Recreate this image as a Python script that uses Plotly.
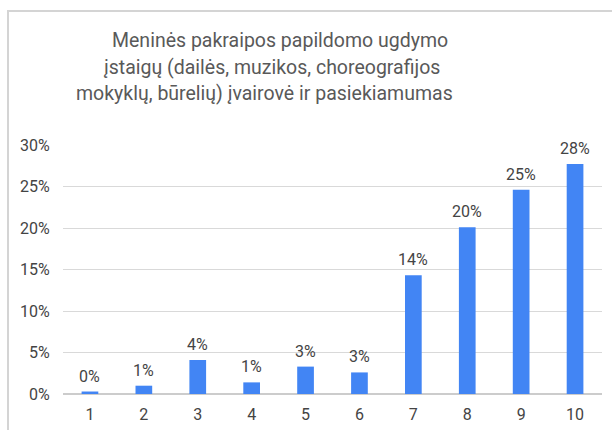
import plotly.graph_objects as go

categories = ["1", "2", "3", "4", "5", "6", "7", "8", "9", "10"]
values = [0.003, 0.010, 0.041, 0.014, 0.033, 0.026, 0.143, 0.201, 0.246, 0.277]
labels = ["0%", "1%", "4%", "1%", "3%", "3%", "14%", "20%", "25%", "28%"]
y_ticks = [0, 0.05, 0.10, 0.15, 0.20, 0.25, 0.30]
y_tick_text = ["0%", "5%", "10%", "15%", "20%", "25%", "30%"]
title_lines = ["Meninės pakraipos papildomo ugdymo",
               "įstaigų (dailės, muzikos, choreografijos",
               "mokyklų, būrelių) įvairovė ir pasiekiamumas"]

FONT = "Roboto, Arial, sans-serif"

fig = go.Figure(go.Bar(
    x=categories, y=values, cliponaxis=False,
    marker=dict(color="#4285f4", line=dict(width=0)),
))

W, H = 612, 430
L, R, T, B = 63, 10, 145, 36
pw, ph = W - L - R, H - T - B

def px_x(p):
    return (p - L) / pw

def px_y(p):
    return (H - B - p) / ph

title_pos = [(280, 41), (271.5, 68), (264, 94)]
annotations = [
    dict(text=t, xref="paper", yref="paper", x=px_x(cx), y=px_y(cy),
         xanchor="center", yanchor="middle", showarrow=False,
         font=dict(family=FONT, size=19.5, color="#595959"))
    for t, (cx, cy) in zip(title_lines, title_pos)
]
annotations += [
    dict(text=lab, x=i, y=v, xref="x", yref="y", xanchor="center",
         yanchor="bottom", yshift=4, showarrow=False,
         font=dict(family=FONT, size=16, color="#444444"))
    for i, (v, lab) in enumerate(zip(values, labels))
]

fig.update_layout(
    width=W, height=H,
    margin=dict(l=L, r=R, t=T, b=B, autoexpand=False),
    paper_bgcolor="white", plot_bgcolor="rgba(0,0,0,0)",
    showlegend=False, bargap=0.69,
    font=dict(family=FONT, color="#444444"),
    annotations=annotations,
    xaxis=dict(type="category", showgrid=False, showline=False, zeroline=False,
               ticks="outside", ticklen=6, tickcolor="rgba(0,0,0,0)",
               tickfont=dict(family=FONT, size=16, color="#444444")),
    yaxis=dict(range=[0, 0.30], tickvals=y_ticks, ticktext=y_tick_text,
               showgrid=True, gridcolor="#d9d9d9", gridwidth=1,
               zeroline=True, zerolinecolor="#cccccc", zerolinewidth=1.5,
               showline=False, ticks="outside", ticklen=9,
               tickcolor="rgba(0,0,0,0)",
               tickfont=dict(family=FONT, size=16, color="#444444")),
)

# page styling: no body margin, plus the light chart frame of the reference
post = (
    "document.body.style.margin='0';"
    "document.body.style.overflow='hidden';"
    "var f=document.createElement('div');"
    "f.style.cssText='position:absolute;left:7px;top:10px;width:700px;"
    "height:600px;border:2px solid #d4d4d4;pointer-events:none;';"
    "document.body.appendChild(f);"
)

fig.write_html("out.html", config={"displayModeBar": False}, post_script=post)
